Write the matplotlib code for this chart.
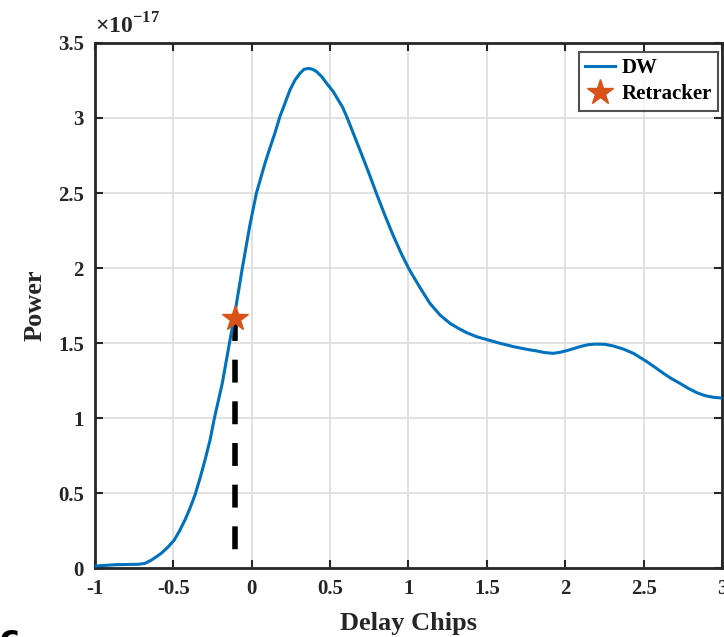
import numpy as np
import matplotlib
matplotlib.use("Agg")
import matplotlib.pyplot as plt

# delay waveform (power in units of 1e-17)
delay = [-1.0, -0.87, -0.72, -0.681, -0.64, -0.607, -0.575, -0.532, -0.494, -0.46,
         -0.426, -0.394, -0.362, -0.33, -0.298, -0.266, -0.238, -0.188, -0.142, -0.111,
         -0.06, -0.011, 0.03, 0.085, 0.116, 0.148,
         0.18, 0.212, 0.244, 0.276, 0.308, 0.333, 0.361, 0.389, 0.414, 0.446,
         0.478, 0.52, 0.552, 0.58, 0.606, 0.648, 0.69, 0.744, 0.797, 0.85,
         0.903, 0.957, 1.005, 1.073, 1.137, 1.201, 1.265, 1.318, 1.371, 1.435,
         1.509, 1.584, 1.669, 1.754, 1.818, 1.871, 1.924, 1.967, 2.009, 2.052,
         2.094, 2.147, 2.2, 2.254, 2.307, 2.37, 2.435, 2.477, 2.52, 2.573,
         2.626, 2.679, 2.732, 2.785, 2.839, 2.892, 2.945, 3.0]
power = [0.013, 0.022, 0.025, 0.031, 0.053, 0.076, 0.10, 0.142, 0.187, 0.249,
         0.32, 0.398, 0.487, 0.598, 0.72, 0.853, 1.0, 1.231, 1.5, 1.676,
         2.0, 2.29, 2.5, 2.70, 2.80, 2.90,
         3.01, 3.098, 3.187, 3.253, 3.298, 3.324, 3.331, 3.324, 3.309, 3.276,
         3.231, 3.176, 3.12, 3.071, 3.009, 2.898, 2.787, 2.642, 2.493, 2.35,
         2.215, 2.09, 1.99, 1.87, 1.764, 1.687, 1.631, 1.598, 1.569, 1.542,
         1.52, 1.498, 1.476, 1.458, 1.447, 1.436, 1.431, 1.438, 1.449, 1.462,
         1.476, 1.489, 1.493, 1.491, 1.48, 1.46, 1.431, 1.404, 1.376, 1.338,
         1.298, 1.262, 1.231, 1.198, 1.169, 1.149, 1.138, 1.133]

retrack_x = -0.105
retrack_y = 1.67

xticks = [-1, -0.5, 0, 0.5, 1, 1.5, 2, 2.5, 3]
xtick_labels = ['-1', '-0.5', '0', '0.5', '1', '1.5', '2', '2.5', '3']
yticks = [0, 0.5, 1, 1.5, 2, 2.5, 3, 3.5]
ytick_labels = ['0', '0.5', '1', '1.5', '2', '2.5', '3', '3.5']

plt.rcParams['font.family'] = ['Liberation Serif', 'DejaVu Serif']
plt.rcParams['font.weight'] = 'bold'
plt.rcParams['mathtext.fontset'] = 'custom'
plt.rcParams['mathtext.rm'] = 'Liberation Serif'
plt.rcParams['lines.scale_dashes'] = False

fig = plt.figure(figsize=(7.24, 6.37), dpi=100)
ax = fig.add_axes([0.1312, 0.1083, 0.8660, 0.8242])

ax.plot(delay, power, color='#0072BD', lw=2.2, label='DW', zorder=3,
        solid_joinstyle='round')
ax.plot([retrack_x, retrack_x], [retrack_y, 0], color='black', lw=4.0,
        dashes=(16.5, 13.5), zorder=2)
ax.plot([retrack_x], [retrack_y], marker='*', ms=19, color='#D95319',
        linestyle='none', label='Retracker', zorder=4)

ax.set_xlim(-1, 3)
ax.set_ylim(0, 3.5)
ax.set_xticks(xticks)
ax.set_xticklabels(xtick_labels)
ax.set_yticks(yticks)
ax.set_yticklabels(ytick_labels)
ax.tick_params(direction='in', length=6, width=1.5, labelsize=15,
               top=True, right=True, colors='#262626', pad=8)
ax.grid(True, color='#dcdcdc', lw=1.2)
ax.set_axisbelow(True)
for s in ax.spines.values():
    s.set_linewidth(2.0)
    s.set_color('#262626')

ax.set_xlabel('Delay Chips', fontsize=19, fontweight='bold', color='#262626', labelpad=9)
ax.set_ylabel('Power', fontsize=19, fontweight='bold', color='#262626', labelpad=8)
ax.text(0.0, 1.008, r'$\times10^{\mathrm{-}17}$', transform=ax.transAxes,
        fontsize=17, color='#262626', ha='left', va='bottom')

leg = ax.legend(loc='upper right', bbox_to_anchor=(0.9936, 0.983), fontsize=15,
                frameon=True, fancybox=False, edgecolor='#262626',
                handlelength=1.45, handletextpad=0.3, borderpad=0.3,
                labelspacing=0.3, borderaxespad=0.0)
leg.get_frame().set_linewidth(1.5)

# leftover panel letter cut off at the bottom edge
fig.text(0.0, -0.004, 'c', fontsize=24, fontweight='bold',
         family='DejaVu Sans', ha='left', va='center')

fig.savefig('out.png', dpi=100)
